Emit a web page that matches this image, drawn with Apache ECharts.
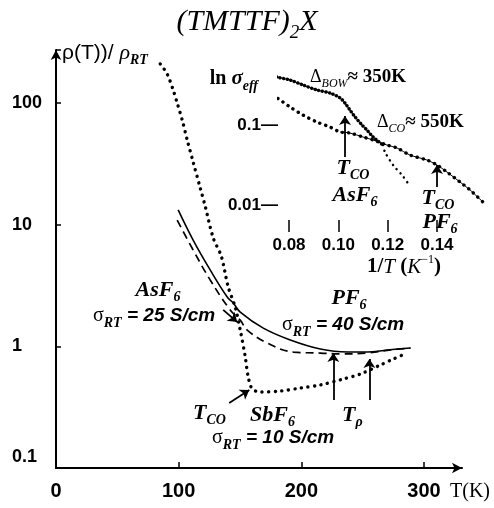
<!DOCTYPE html>
<html><head><meta charset="utf-8">
<script src="https://cdn.jsdelivr.net/npm/echarts@6/dist/echarts.min.js"></script>
<style>html,body{margin:0;padding:0;background:#fff}#c{width:494px;height:508px}</style>
</head><body><div id="c"></div>
<script>
// ---------- main panel: rho(T)/rho_RT vs T ----------
const sbf6T   = [85, 90.6, 95.5, 98.8, 102.9, 107, 111.8, 117.6, 121.6, 128.2, 134.7, 140.4, 146.1, 150.2, 154.3, 156.7, 160, 166.5, 183, 199.2, 215.5, 234.3, 248.2, 264.5, 275.1, 282.4];
const sbf6Rho = [209, 173, 128, 99.8, 72.3, 49.5, 32.7, 20.0, 14.2, 7.76, 5.52, 3.07, 2.10, 1.36, 0.817, 0.56, 0.446, 0.421, 0.429, 0.454, 0.481, 0.539, 0.592, 0.702, 0.787, 0.849];
const pf6T    = [99.6, 111.8, 125.7, 139.6, 144.5, 150.2, 169, 191, 215.5, 237.6, 253.9, 270.2, 289];
const pf6Rho  = [13.2, 7.46, 4.24, 2.54, 2.27, 1.91, 1.41, 1.127, 0.95, 0.897, 0.897, 0.933, 0.968];
const asf6T   = [98.8, 111.8, 125.7, 142, 150.2, 155.9, 172.2, 193.5, 215.5, 231.8, 253.9, 272.7, 289];
const asf6Rho = [10.9, 6.18, 3.51, 1.99, 1.64, 1.36, 1.064, 0.897, 0.88, 0.865, 0.88, 0.933, 0.968];
const xTicks  = [0, 100, 200, 300];

// ---------- inset: sigma_eff vs 1/T ----------
const asf6InvT  = [0.0707, 0.0751, 0.0804, 0.0857, 0.0913, 0.0966, 0.1007, 0.1027, 0.1047, 0.1068, 0.1096, 0.1116, 0.1141, 0.1181];
const asf6Sigma = [0.447, 0.398, 0.365, 0.316, 0.274, 0.251, 0.218, 0.188, 0.154, 0.126, 0.100, 0.0866, 0.0708, 0.0562];
const pf6InvT   = [0.0711, 0.0751, 0.0804, 0.0857, 0.0913, 0.0966, 0.1007, 0.1047, 0.1100, 0.1141, 0.1197, 0.1238, 0.1290, 0.1359, 0.1400, 0.1440, 0.1493, 0.1534, 0.1586];
const pf6Sigma  = [0.251, 0.218, 0.168, 0.133, 0.109, 0.0944, 0.0818, 0.0794, 0.0708, 0.065, 0.0562, 0.0516, 0.0422, 0.0365, 0.0316, 0.0259, 0.0194, 0.0154, 0.0109];
const branchInvT  = [0.1181, 0.1189, 0.1222, 0.1258, 0.1282];
const branchSigma = [0.0562, 0.046, 0.0316, 0.0237, 0.0188];
const insetXTicks = [0.08, 0.10, 0.12, 0.14];

// annotation arrows (data coordinates: [from], [to])
const mainArrows  = [[[226.1, 0.362], [226.1, 0.881]], [[255.5, 0.362], [255.5, 0.787]], [[141.2, 0.342], [157.6, 0.438]], [[136.3, 1.99], [147.8, 1.58]]];
const insetArrows = [[[0.1027, 0.0398], [0.1027, 0.1296]], [[0.14, 0.0168], [0.14, 0.0316]]];

const zip = (a, b) => a.map((v, i) => [v, b[i]]);
const SERIF = 'Liberation Serif', SANS = 'Liberation Sans';

const rich = {
  i:  {fontFamily: SERIF, fontStyle: 'italic', fontWeight: 'bold', fontSize: 22, lineHeight: 24, color: '#000'},
  s:  {fontFamily: SERIF, fontStyle: 'italic', fontWeight: 'bold', fontSize: 14, verticalAlign: 'bottom', lineHeight: 28, color: '#000'},
  s2: {fontFamily: SERIF, fontStyle: 'italic', fontSize: 12, verticalAlign: 'bottom', lineHeight: 26, color: '#000'},
  g:  {fontFamily: SERIF, fontSize: 20, lineHeight: 24, color: '#000'},
  gi: {fontFamily: SERIF, fontStyle: 'italic', fontWeight: 'bold', fontSize: 21, lineHeight: 24, color: '#000'},
  b:  {fontFamily: SANS, fontStyle: 'italic', fontWeight: 'bold', fontSize: 19, lineHeight: 24, color: '#000'},
  n:  {fontFamily: SERIF, fontWeight: 'bold', fontSize: 19, lineHeight: 24, color: '#000'},
  ln: {fontFamily: SERIF, fontWeight: 'bold', fontSize: 20, lineHeight: 24, color: '#000'},
  d:  {fontFamily: SERIF, fontSize: 18, lineHeight: 24, color: '#000'},
  r:  {fontFamily: SERIF, fontWeight: 'bold', fontSize: 21, lineHeight: 24, color: '#000'},
  ri: {fontFamily: SERIF, fontStyle: 'italic', fontSize: 21, lineHeight: 24, color: '#000'},
  sup:{fontFamily: SERIF, fontSize: 12, verticalAlign: 'top', lineHeight: 26, color: '#000'},
  t:  {fontFamily: SERIF, fontStyle: 'italic', fontSize: 30, lineHeight: 34, color: '#000'},
  ts: {fontFamily: SERIF, fontStyle: 'italic', fontSize: 19, verticalAlign: 'bottom', lineHeight: 40, color: '#000'}
};
function txt(x, y, text, align) {
  return {type: 'text', x: x, y: y, z: 100, silent: true,
    style: {text: text, rich: rich, align: align || 'left', verticalAlign: 'middle', fill: '#000'}};
}
const arrowML = (arr) => ({
  silent: true, symbol: ['none', 'arrow'], symbolSize: 9, animation: false,
  label: {show: false},
  lineStyle: {color: '#000', type: 'solid', width: 1.8},
  data: arr.map(p => [{coord: p[0]}, {coord: p[1]}])
});
const dots = (w, gap) => ({color: '#000', width: w, type: [0.1, gap], cap: 'round'});

const chart = echarts.init(document.getElementById('c'));
chart.setOption({
  animation: false,
  backgroundColor: '#fff',
  grid: [
    {left: 56, right: 32, top: 50, bottom: 40},
    {left: 279, right: 5, top: 70, bottom: 276}
  ],
  xAxis: [
    {type: 'value', gridIndex: 0, min: 0, max: 331,
      axisLine: {show: true, symbol: ['none', 'arrow'], symbolSize: [8, 10], lineStyle: {color: '#000', width: 2}},
      axisTick: {show: true, inside: true, length: 6, customValues: xTicks, lineStyle: {color: '#000', width: 1.5}},
      axisLabel: {customValues: xTicks, margin: 13, color: '#000', fontFamily: SANS, fontWeight: 'bold', fontSize: 20},
      splitLine: {show: false},
      name: 'T(K)', nameLocation: 'end', nameGap: -12,
      nameTextStyle: {fontFamily: SERIF, fontSize: 20, color: '#000', align: 'left', verticalAlign: 'top', padding: [14, 0, 0, 0]}
    },
    {type: 'value', gridIndex: 1, min: 0.07595, max: 0.16107,
      axisLine: {show: false},
      axisTick: {show: true, inside: true, length: 12, customValues: insetXTicks, lineStyle: {color: '#000', width: 1.5}},
      axisLabel: {customValues: insetXTicks, margin: 5, color: '#000', fontFamily: SANS, fontWeight: 'bold', fontSize: 17,
        formatter: v => v.toFixed(2)},
      splitLine: {show: false}
    }
  ],
  yAxis: [
    {type: 'log', gridIndex: 0, min: 0.1, max: 272, logBase: 10,
      axisLine: {show: true, symbol: ['none', 'arrow'], symbolSize: [8, 10], lineStyle: {color: '#000', width: 2}},
      axisTick: {show: true, inside: true, length: 5, lineStyle: {color: '#000', width: 1.5}},
      axisLabel: {align: 'left', margin: 44, color: '#000', fontFamily: SANS, fontWeight: 'bold', fontSize: 18, showMinLabel: true,
        formatter: v => v > 200 ? '' : (v < 0.5 ? '{lo|0.1}' : String(Math.round(v))),
        rich: {lo: {fontFamily: SANS, fontWeight: 'bold', fontSize: 18, color: '#000', padding: [0, 0, 22, 0]}}},
      splitLine: {show: false}, minorSplitLine: {show: false},
      name: '{a|ρ(T))/ }{b|ρ}{c|RT}', nameLocation: 'end', nameGap: -3,
      nameTextStyle: {align: 'left', verticalAlign: 'middle', padding: [0, 0, 0, 6],
        rich: {
          a: {fontFamily: SANS, fontSize: 21, color: '#000', lineHeight: 24},
          b: {fontFamily: SERIF, fontStyle: 'italic', fontSize: 22, color: '#000', lineHeight: 24},
          c: {fontFamily: SERIF, fontStyle: 'italic', fontWeight: 'bold', fontSize: 14, color: '#000', verticalAlign: 'bottom', lineHeight: 28}
        }}
    },
    {type: 'log', gridIndex: 1, min: 0.0046, max: 0.487, logBase: 10,
      axisLine: {show: false}, axisTick: {show: false},
      axisLabel: {margin: 1, color: '#000', fontFamily: SANS, fontWeight: 'bold', fontSize: 17, showMinLabel: true, showMaxLabel: true,
        formatter: v => Math.abs(v - 0.1) < 1e-6 ? '0.1—' : (Math.abs(v - 0.01) < 1e-7 ? '0.01—' : '')},
      splitLine: {show: false}, minorSplitLine: {show: false}
    }
  ],
  series: [
    {name: 'SbF6', type: 'line', xAxisIndex: 0, yAxisIndex: 0, data: zip(sbf6T, sbf6Rho), smooth: 0.3, showSymbol: false,
      lineStyle: dots(3.4, 6.5), markLine: arrowML(mainArrows)},
    {name: 'PF6', type: 'line', xAxisIndex: 0, yAxisIndex: 0, data: zip(pf6T, pf6Rho), smooth: 0.4, showSymbol: false,
      lineStyle: {color: '#000', width: 1.6}},
    {name: 'AsF6', type: 'line', xAxisIndex: 0, yAxisIndex: 0, data: zip(asf6T, asf6Rho), smooth: 0.4, showSymbol: false,
      lineStyle: {color: '#000', width: 1.7, type: [8, 5]}},
    {name: 'AsF6 inset', type: 'line', xAxisIndex: 1, yAxisIndex: 1, data: zip(asf6InvT, asf6Sigma), smooth: 0.3, showSymbol: false, clip: false,
      lineStyle: dots(3.4, 3.6), markLine: arrowML(insetArrows)},
    {name: 'AsF6 inset line', type: 'line', xAxisIndex: 1, yAxisIndex: 1, data: zip(asf6InvT, asf6Sigma), smooth: 0.3, showSymbol: false, clip: false,
      lineStyle: {color: '#000', width: 1}},
    {name: 'PF6 inset dots', type: 'line', xAxisIndex: 1, yAxisIndex: 1, data: zip(pf6InvT, pf6Sigma), smooth: 0.3, showSymbol: false, clip: false,
      lineStyle: dots(3.4, 6)},
    {name: 'PF6 inset line', type: 'line', xAxisIndex: 1, yAxisIndex: 1, data: zip(pf6InvT, pf6Sigma).filter(p => p[0] >= 0.1), smooth: 0.3, showSymbol: false, clip: false,
      lineStyle: {color: '#000', width: 1}},
    {name: 'branch', type: 'line', xAxisIndex: 1, yAxisIndex: 1, data: zip(branchInvT, branchSigma), smooth: 0.3, showSymbol: false, clip: false,
      lineStyle: dots(2.4, 5.5)}
  ],
  graphic: [
    txt(247, 22, '{t|(TMTTF)}{ts|2}{t|X}', 'center'),
    txt(258, 79, '{ln|ln }{gi|σ}{s|eff}', 'right'),
    txt(310, 77, '{d|Δ}{s2|BOW}{n|≈ 350K}'),
    txt(377, 122, '{d|Δ}{s2|CO}{n|≈ 550K}'),
    txt(353, 168, '{i|T}{s|CO}', 'center'),
    txt(355, 195, '{i|AsF}{s|6}', 'center'),
    txt(438, 198, '{i|T}{s|CO}', 'center'),
    txt(440, 222, '{i|PF}{s|6}', 'center'),
    txt(367, 267, '{r|1/}{ri|T}{r| (}{ri|K}{sup|−1}{r|)}'),
    txt(158, 290, '{i|AsF}{s|6}', 'center'),
    txt(93, 316, '{g|σ}{s|RT}{b| = 25 S/cm}'),
    txt(349, 298, '{i|PF}{s|6}', 'center'),
    txt(282, 325, '{g|σ}{s|RT}{b| = 40 S/cm}'),
    txt(193, 413, '{i|T}{s|CO}'),
    txt(250, 415, '{i|SbF}{s|6}'),
    txt(212, 438, '{g|σ}{s|RT}{b| = 10 S/cm}'),
    txt(342, 415, '{i|T}{s|ρ}')
  ]
});
</script>
</body></html>
